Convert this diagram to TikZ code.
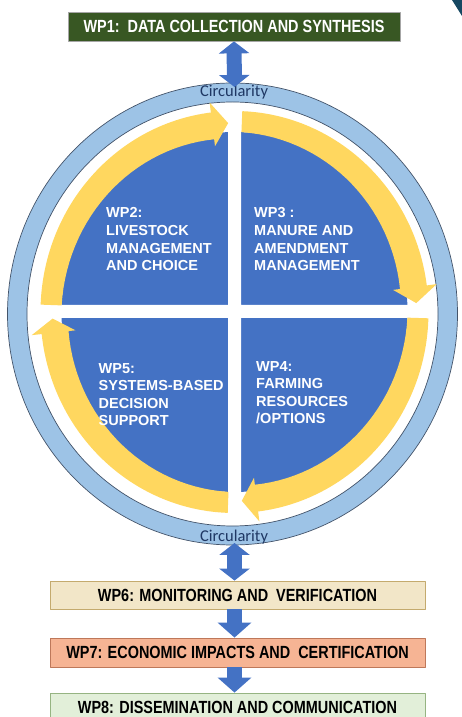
\documentclass[tikz,border=0pt]{standalone}
\usepackage{fontspec}
\setmainfont{Liberation Sans}
\newfontfamily\narrowfont[FakeStretch=0.82]{Liberation Sans}
\newfontfamily\circfont{Carlito}
\usetikzlibrary{calc,arrows.meta}
\definecolor{wpgreen}{RGB}{56,87,35}
\definecolor{wpblue}{RGB}{68,114,196}
\definecolor{ringblue}{RGB}{157,195,230}
\definecolor{ringline}{RGB}{68,84,106}
\definecolor{arrowyellow}{RGB}{255,215,95}
\definecolor{circtext}{RGB}{31,56,100}
\definecolor{wpsixfill}{RGB}{242,230,200}
\definecolor{wpsixline}{RGB}{196,170,110}
\definecolor{wpsevenfill}{RGB}{246,180,148}
\definecolor{wpsevenline}{RGB}{190,120,90}
\definecolor{wpeightfill}{RGB}{226,239,217}
\definecolor{wpeightline}{RGB}{150,180,130}
\definecolor{cornerteal}{RGB}{22,72,98}
\tikzset{
	wpbox/.style={draw,line width=0.8pt,minimum width=375pt,minimum height=28pt,inner sep=0pt,
		font=\narrowfont\bfseries\fontsize{17.6}{20}\selectfont},
	quadtext/.style={anchor=north west,align=left,inner sep=0pt,text=white,
		font=\bfseries\fontsize{14.5}{17.6}\selectfont},
	circlabel/.style={anchor=base,inner sep=0pt,text=circtext,font=\circfont\fontsize{16.5}{18}\selectfont},
	blockarr/.style={wpblue,line width=15pt,-{Triangle[width=33pt,length=15pt]}},
	twoway/.style={wpblue,line width=15pt,{Triangle[width=30pt,length=12pt]}-{Triangle[width=30pt,length=12pt]}}
}
\begin{document}
\begin{tikzpicture}[x=1pt,y=1pt,line join=round]
	\def\cx{234.5} \def\cy{405} \def\tp{6}
	\def\ao{194} \def\bo{201} \def\ai{173} \def\bi{180}
	\def\am{182} \def\bm{189} \def\aw{204} \def\bw{211} \def\av{160} \def\bv{167}
	\useasboundingbox (0,0) rectangle (462,717);
	\clip (0,0) rectangle (462,717);
	\path
	(232.5,403) coordinate (R)
	(\cx,\cy) coordinate (C)
	(234.5,630) coordinate (ringtop)
	(234.5,174) coordinate (ringbot)
	;
	\fill[cornerteal] (452,717) -- (462,717) -- (462,701) -- cycle;
	\fill[ringblue,even odd rule]
	(R) ellipse[x radius=225,y radius=231] (R) ellipse[x radius=205.5,y radius=212];
	\draw[ringline,line width=0.7pt]
	(R) ellipse[x radius=225,y radius=231] (R) ellipse[x radius=205.5,y radius=212];
	\fill[wpblue] (C) ellipse[x radius=\ai,y radius=\bi];
	\fill[white] (228,215) rectangle (241,595) (52,399) rectangle (417,412);
	\foreach \s/\b/\t in {177.9/97/92,87.7/7.6/2.7,-1.8/-83/-87.7,-92/-173.7/-178}
	\fill[arrowyellow]
	($(C)+(\s:{\ao} and {\bo})$) arc[start angle=\s,end angle=\b,x radius=\ao,y radius=\bo]
	-- ($(C)+(\b:{\aw} and {\bw})$) -- ($(C)+(\t:{\am} and {\bm})$) -- ($(C)+(\b:{\av} and {\bv})$)
	-- plot[domain=\b:\s,samples=30,variable=\u]
	({\cx+(\ai-\tp*(\u-(\s))/(\b-(\s)))*cos(\u)},{\cy+(\bi-\tp*(\u-(\s))/(\b-(\s)))*sin(\u)})
	-- cycle;
	\foreach \n/\p/\txt in {
		wp2/{106,509.5}/{WP2:\\LIVESTOCK\\MANAGEMENT\\AND CHOICE},
		wp3/{254,509.5}/{WP3 :\\MANURE AND\\AMENDMENT\\MANAGEMENT},
		wp5/{98.5,354}/{WP5:\\SYSTEMS-BASED\\DECISION\\SUPPORT},
		wp4/{256,356}/{WP4:\\FARMING\\RESOURCES\\/OPTIONS}}
	\node[quadtext] (\n) at (\p) {\txt};
	\node[circlabel] (circtop) at (234,620.3) {Circularity};
	\node[circlabel] (circbot) at (234,175.3) {Circularity};
	\node[wpbox,fill=wpgreen,draw=gray!70,text=white,minimum width=332pt,minimum height=29pt]
	(wp1) at (234,690.5) {WP1:\ \ DATA COLLECTION AND SYNTHESIS};
	\node[wpbox,fill=wpsixfill,draw=wpsixline] (wp6) at (237.5,122) {WP6: MONITORING AND\ \ VERIFICATION};
	\node[wpbox,fill=wpsevenfill,draw=wpsevenline,minimum height=29pt]
	(wp7) at (237.5,64.5) {WP7: ECONOMIC IMPACTS AND\ \ CERTIFICATION};
	\node[wpbox,fill=wpeightfill,draw=wpeightline] (wp8) at (237.5,10) {WP8: DISSEMINATION AND COMMUNICATION};
	\draw[twoway] (wp1.south) -- (ringtop);
	\draw[twoway] (ringbot) -- (ringbot |- wp6.north);
	\draw[blockarr] (ringbot |- wp6.south) -- (ringbot |- wp7.north);
	\draw[blockarr] (ringbot |- wp7.south) -- (ringbot |- wp8.north);
\end{tikzpicture}
\end{document}
